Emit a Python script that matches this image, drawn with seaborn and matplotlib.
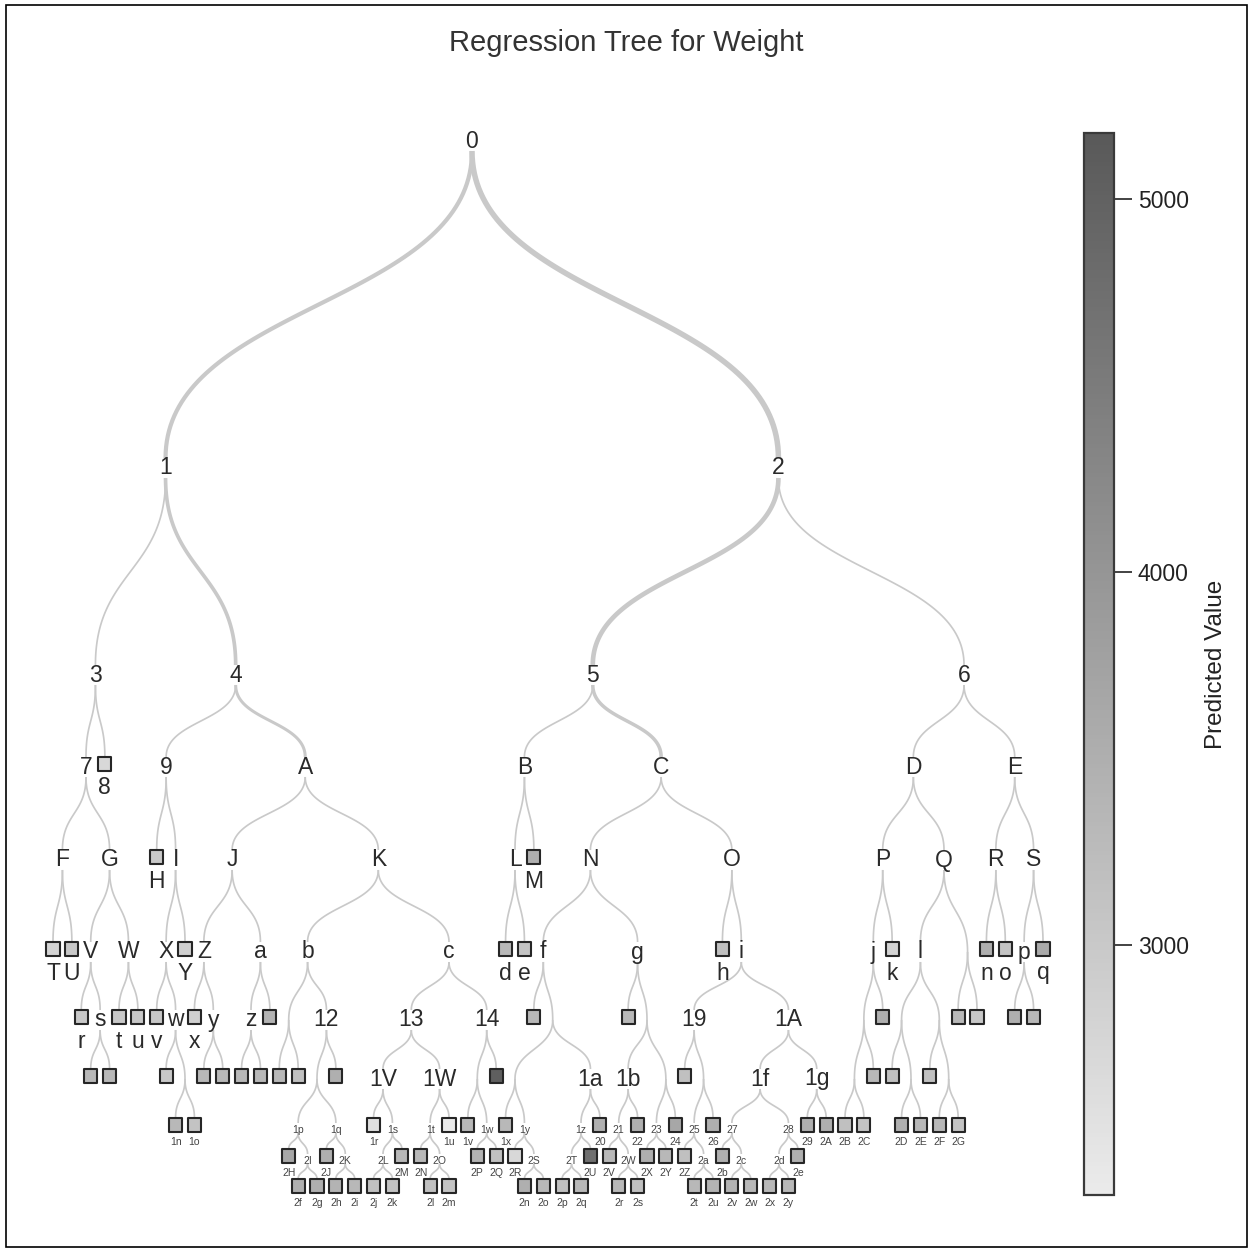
import numpy as np
import pandas as pd
import matplotlib
matplotlib.use("Agg")
from matplotlib import pyplot as plt
from matplotlib.colors import LinearSegmentedColormap, Normalize
from matplotlib.cm import ScalarMappable
from matplotlib.patches import Rectangle
import seaborn as sns

# split nodes in breadth-first order; the k-th split node has children 2k+1 and 2k+2
split_nodes = ["0", "1", "2", "3", "4", "5", "6", "7", "9", "A", "B", "C", "D", "E",
               "F", "G", "I", "J", "K", "L", "N", "O", "P", "Q", "R", "S",
               "V", "W", "X", "Z", "a", "b", "c", "f", "g", "i", "j", "l", "m", "p",
               "s", "w", "y", "z", "11", "12", "13", "14", "16", "18", "19", "1A",
               "1B", "1D", "1E", "1M", "1T", "1V", "1W", "1X", "1Z", "1a", "1b", "1c",
               "1e", "1f", "1g", "1h", "1k", "1m", "1p", "1q", "1s", "1t", "1w", "1y",
               "1z", "21", "23", "25", "27", "28", "2I", "2K", "2L", "2O", "2S", "2T",
               "2W", "2a", "2c", "2d"]

# predicted value (weight) of each leaf
leaf_ids = ["8", "H", "M", "T", "U", "Y", "d", "e", "h", "k", "n", "o", "q",
            "r", "t", "u", "v", "x", "10", "15", "17", "1C", "1F", "1G", "1H", "1I",
            "1J", "1K", "1L", "1N", "1O", "1P", "1Q", "1R", "1S", "1U", "1Y", "1d", "1i", "1j", "1l",
            "1n", "1o", "1r", "1u", "1v", "1x", "20", "22", "24", "26", "29", "2A", "2B", "2C",
            "2D", "2E", "2F", "2G",
            "2H", "2J", "2M", "2N", "2P", "2Q", "2R", "2U", "2V", "2X", "2Y", "2Z", "2b", "2e",
            "2f", "2g", "2h", "2i", "2j", "2k", "2l", "2m", "2n", "2o", "2p", "2q", "2r", "2s",
            "2t", "2u", "2v", "2w", "2x", "2y"]
leaf_values = [2700, 3000, 3490, 2780, 3020, 2860, 3330, 3100, 3170, 2800, 3490, 3100, 3600,
               3020, 3020, 3020, 3020, 2860, 3420, 3330, 3330, 3490, 3330, 3020, 3490, 3330,
               3330, 3330, 3020, 3330, 3330, 3330, 3330, 3330, 3170, 3490, 5060, 3170, 3330, 3170, 3170,
               3330, 3100, 2550, 2380, 3330, 3330, 3490, 3490, 3650, 3490, 3490, 3490, 3170, 3100,
               3490, 3330, 3330, 3100,
               3650, 3490, 3330, 3330, 3410, 3170, 2700, 4750, 3330, 3490, 3330, 3170, 3490, 3490,
               3490, 3490, 3410, 3330, 3170, 3100, 3170, 3100, 3490, 3330, 3170, 3330, 3330, 3170,
               3330, 3410, 3410, 3330, 3330, 3330]

# observations flowing into the busiest branches (others are small)
branch_nodes = ["1", "2", "4", "5", "A", "C"]
branch_obs = [150, 230, 120, 180, 80, 110]

value_min, value_max = 2330, 5177
colorbar_ticks = [3000, 4000, 5000]

DIGITS = "0123456789ABCDEFGHIJKLMNOPQRSTUVWXYZabcdefghijklmnopqrstuvwxyz"


def node_name(n):
    return DIGITS[n] if n < 62 else DIGITS[n // 62] + DIGITS[n % 62]


# build the tree
children = {}
for k, nid in enumerate(split_nodes):
    children[nid] = [node_name(2 * k + 1), node_name(2 * k + 2)]
parent = {c: p for p, cs in children.items() for c in cs}
depth = {"0": 0}
order = ["0"]
for nid in order:
    for c in children.get(nid, []):
        depth[c] = depth[nid] + 1
        order.append(c)

# tidy (Reingold-Tilford style) layout, unit separation between neighbours
offset = {}


def contour(nid):
    d = depth[nid]
    if nid not in children:
        return {d: (0.0, 0.0)}
    left, right = children[nid]
    lc, rc = contour(left), contour(right)
    gap = max(lc[k][1] - rc[k][0] + 1.0 for k in lc if k in rc)
    offset[left], offset[right] = -gap / 2, gap / 2
    out = {d: (0.0, 0.0)}
    for c, off in ((lc, -gap / 2), (rc, gap / 2)):
        for k, (lo, hi) in c.items():
            if k in out:
                out[k] = (min(out[k][0], lo + off), max(out[k][1], hi + off))
            else:
                out[k] = (lo + off, hi + off)
    return out


contour("0")
xpos = {"0": 0.0}
for nid in order[1:]:
    xpos[nid] = xpos[parent[nid]] + offset[nid]

LEVEL_Y = [141, 468, 675, 767, 860, 952, 1020, 1079, 1128, 1159, 1189]
ypos = {nid: LEVEL_Y[depth[nid]] for nid in order}

hidden = {"m", "11", "16", "18", "1B", "1D", "1E", "1M", "1T", "1X", "1Z",
          "1c", "1e", "1h", "1k", "1m"}

sns.set_theme(style="white")
plt.rcParams["font.family"] = ["Liberation Sans", "DejaVu Sans"]

W = 1252
fig = plt.figure(figsize=(12.52, 12.52), dpi=100)
ax = fig.add_axes([0, 0, 1, 1])
ax.axis("off")

cmap = LinearSegmentedColormap.from_list("gray_ramp", ["#ebebeb", "#595959"])
norm = Normalize(value_min, value_max)

# links
obs = dict(zip(branch_nodes, branch_obs))
t = np.linspace(0, 1, 80)[:, None]
for nid in order[1:]:
    p = parent[nid]
    big_p = depth[p] < 8
    y0 = ypos[p] + (0 if p in hidden else (10 if big_p else 5))
    if nid in children:
        y1 = ypos[nid] - (0 if nid in hidden else (10 if depth[nid] < 8 else 5))
    else:
        y1 = ypos[nid] - 10
    x0, x1 = xpos[p], xpos[nid]
    ym = (y0 + y1) / 2
    pts = ((1 - t) ** 3 * np.array([x0, y0]) + 3 * (1 - t) ** 2 * t * np.array([x0, ym])
           + 3 * (1 - t) * t ** 2 * np.array([x1, ym]) + t ** 3 * np.array([x1, y1]))
    width_px = 1.7 + 3.8 * obs.get(nid, 0) / max(branch_obs)
    ax.plot(pts[:, 0], pts[:, 1], color="#c9c9c9", lw=width_px * 0.72,
            solid_capstyle="butt", zorder=1)

# leaves
leaf_df = pd.DataFrame({"node": leaf_ids, "value": leaf_values})
leaf_df["x"] = leaf_df["node"].map(xpos)
leaf_df["y"] = leaf_df["node"].map(ypos) - 3
sns.scatterplot(data=leaf_df, x="x", y="y", hue="value", palette=cmap, hue_norm=norm,
                marker="s", s=88, edgecolor="#262626", linewidth=1.5, legend=False,
                ax=ax, zorder=3)

# labels
for nid in order:
    d = depth[nid]
    small = d >= 8
    fs = 7.5 if small else 16.5
    col = "#444444" if small else "#2a2a2a"
    if nid in children:
        if nid in hidden:
            continue
        ax.text(xpos[nid], ypos[nid] + (2 if small else 0), nid, ha="center", va="center",
                fontsize=fs, color=col, zorder=4)
    else:
        if small or len(nid) == 1:
            ax.text(xpos[nid], ypos[nid] + (14 if small else 21), nid, ha="center",
                    va="center", fontsize=fs, color=col, zorder=4)

# map layout units onto the canvas
xs = np.array(list(xpos.values()))
scale = (1043 - 53) / (xs.max() - xs.min())
ax.set_xlim(xs.min() - 53 / scale, xs.min() + (W - 53) / scale)
ax.set_ylim(W, 0)

fig.text(0.5, 1 - 43 / W, "Regression Tree for Weight", ha="center", va="center",
         fontsize=21, color="#333333")

# colour bar
cax = fig.add_axes([1084 / W, (W - 1195) / W, 30 / W, (1195 - 133) / W])
cb = fig.colorbar(ScalarMappable(norm=norm, cmap=cmap), cax=cax, ticks=colorbar_ticks)
cb.outline.set_edgecolor("#3a3a3a")
cb.outline.set_linewidth(1.6)
cax.tick_params(direction="out", length=13, width=1.2, colors="#222222",
                labelsize=16.5, pad=4)
cb.set_label("Predicted Value", fontsize=17.5, color="#222222", labelpad=12)

fig.add_artist(Rectangle((6 / W, 5 / W), 1241 / W, 1242 / W, transform=fig.transFigure,
                         fill=False, edgecolor="black", lw=1.2))

fig.savefig("out.png", dpi=100)
